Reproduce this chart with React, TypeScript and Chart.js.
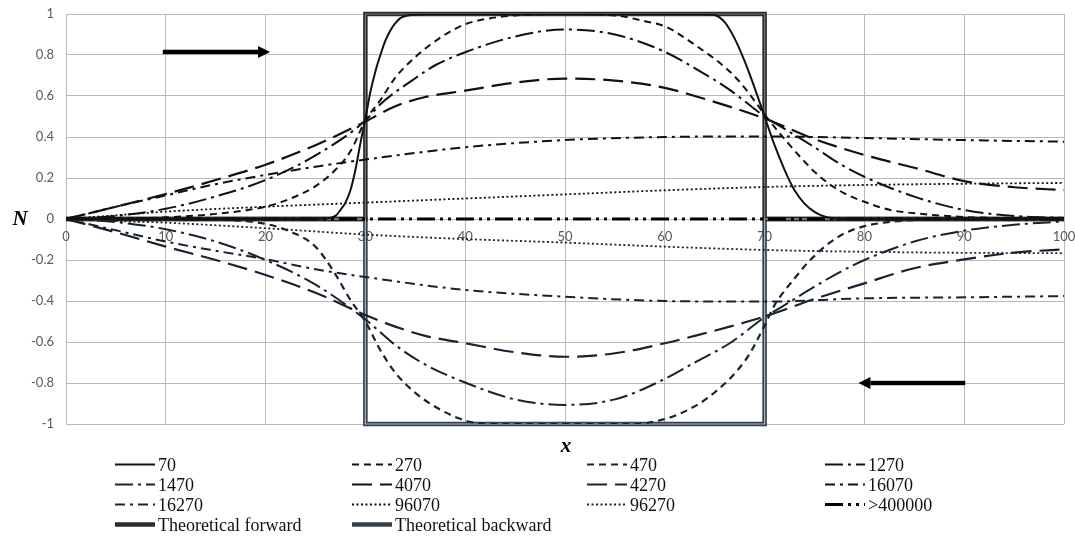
import React, { useEffect, useRef } from 'react';
import { Chart, registerables } from 'chart.js';

Chart.register(...registerables);

// ---------------- data ----------------
const x70 = [0, 25, 26, 27, 27.5, 28, 28.5, 29, 29.5, 30, 30.5, 31, 31.5, 32, 32.5, 33, 33.5, 34, 35, 36, 64, 65, 66, 67, 68, 69, 70, 71, 72, 73, 74, 75, 76, 77, 78, 100];
const y70 = [0, 0, 0.002, 0.015, 0.044, 0.08, 0.14, 0.24, 0.37, 0.49, 0.62, 0.72, 0.8, 0.87, 0.92, 0.955, 0.98, 0.99, 0.998, 1, 1, 0.995, 0.96, 0.88, 0.77, 0.64, 0.5, 0.36, 0.24, 0.14, 0.075, 0.035, 0.012, 0.003, 0, 0];

const x270 = [0, 10, 15, 20, 22.5, 25, 27, 28.5, 30, 31.5, 33, 35, 36.5, 38, 40, 42, 45, 50, 55, 58, 60, 63, 66.5, 68, 70, 72, 74, 75, 76.5, 78, 80, 82.5, 85, 90, 95, 100];
const y270 = [0, 0.008, 0.025, 0.06, 0.1, 0.16, 0.24, 0.33, 0.48, 0.58, 0.69, 0.79, 0.85, 0.9, 0.95, 0.975, 0.993, 1.0, 0.993, 0.965, 0.94, 0.85, 0.72, 0.64, 0.51, 0.39, 0.28, 0.23, 0.17, 0.125, 0.084, 0.045, 0.028, 0.01, 0.003, 0];

const x470 = [0, 15, 20, 22.4, 25, 27, 28.5, 30, 31.5, 33, 34.8, 37.5, 40.5, 43, 57, 58.2, 61.5, 64.9, 68.2, 70, 71, 72, 73, 74, 75, 76, 77, 78, 80, 83, 86, 90, 100];
const y470 = [0, -0.004, -0.024, -0.06, -0.135, -0.27, -0.395, -0.5, -0.64, -0.75, -0.84, -0.93, -0.99, -1.0, -1.0, -0.995, -0.95, -0.85, -0.68, -0.52, -0.42, -0.35, -0.29, -0.23, -0.18, -0.135, -0.1, -0.07, -0.035, -0.012, -0.004, 0, 0];

const x1270 = [0, 5, 10, 15, 20, 25, 30, 31.5, 34.8, 37, 39.8, 45, 50, 55, 59.8, 63.2, 66.5, 70, 72, 75, 77.5, 80, 85, 90, 95, 100];
const y1270 = [0, 0.015, 0.05, 0.11, 0.19, 0.31, 0.48, 0.56, 0.68, 0.75, 0.81, 0.89, 0.925, 0.9, 0.82, 0.73, 0.63, 0.5, 0.44, 0.35, 0.27, 0.206, 0.109, 0.044, 0.015, 0.005];

const x1470 = [0, 5, 10, 15, 20, 25, 30, 33, 36, 39.8, 45, 50, 55, 59.8, 63, 66.5, 70, 72, 75, 77.5, 80, 85, 90, 95, 100];
const y1470 = [0, -0.015, -0.05, -0.11, -0.2, -0.32, -0.49, -0.615, -0.71, -0.794, -0.88, -0.907, -0.88, -0.785, -0.7, -0.606, -0.48, -0.42, -0.33, -0.26, -0.2, -0.11, -0.057, -0.028, -0.012];

const x4070 = [0, 5, 10, 15, 20, 25, 30, 33, 36, 40, 45, 50, 55, 60, 63, 66.5, 70, 75, 80, 85, 90, 95, 100];
const y4070 = [0, 0.06, 0.122, 0.19, 0.265, 0.36, 0.475, 0.55, 0.595, 0.626, 0.665, 0.685, 0.675, 0.64, 0.6, 0.548, 0.49, 0.39, 0.312, 0.25, 0.185, 0.155, 0.141];
const y4270 = [0, -0.065, -0.135, -0.2, -0.273, -0.36, -0.468, -0.525, -0.57, -0.606, -0.65, -0.672, -0.655, -0.606, -0.57, -0.525, -0.476, -0.39, -0.314, -0.24, -0.197, -0.164, -0.148];

const x16 = [0, 5, 10, 15, 20, 25, 30, 40, 50, 60, 70, 80, 90, 100];
const y16070 = [0, 0.06, 0.115, 0.17, 0.215, 0.255, 0.29, 0.35, 0.385, 0.4, 0.403, 0.395, 0.385, 0.377];
const y16270 = [0, -0.055, -0.11, -0.155, -0.196, -0.245, -0.283, -0.346, -0.379, -0.4, -0.403, -0.387, -0.382, -0.376];

const x96 = [0, 5, 10, 20, 30, 40, 50, 60, 70, 80, 90, 100];
const y96070 = [0, 0.018, 0.036, 0.06, 0.08, 0.1, 0.12, 0.14, 0.156, 0.166, 0.172, 0.176];
const y96270 = [0, -0.01, -0.018, -0.045, -0.076, -0.098, -0.115, -0.135, -0.151, -0.16, -0.165, -0.167];

const x400k = [0, 10, 20, 30, 40, 50, 60, 70, 80, 90, 100];
const y400k = [0, 0, 0, 0, 0, 0, 0, 0, 0, 0, 0];

const xTheo = [0, 30, 30, 70, 70, 100];
const yTheoF = [0, 0, 1, 1, 0, 0];
const yTheoB = [0, 0, -1, -1, 0, 0];

const ARROW_FWD_X = [9.7, 20.45];
const ARROW_FWD_Y = 0.815;
const ARROW_BWD_X = [90.1, 79.4];
const ARROW_BWD_Y = -0.8;

const LEGEND_ORDER = ['70', '270', '470', '1270', '1470', '4070', '4270', '16070', '16270', '96070', '96270', '>400000', 'Theoretical forward', 'Theoretical backward'];

// ---------------- styles ----------------
const FWD = '#111111';
const BWD = '#1a2130';

const SERIES = [
  { label: '70', xs: x70, ys: y70, color: FWD, width: 2, dash: [] as number[] },
  { label: '270', xs: x270, ys: y270, color: FWD, width: 2, dash: [7, 5] },
  { label: '470', xs: x470, ys: y470, color: BWD, width: 2.2, dash: [7, 5] },
  { label: '1270', xs: x1270, ys: y1270, color: FWD, width: 2, dash: [18, 5, 3, 5] },
  { label: '1470', xs: x1470, ys: y1470, color: BWD, width: 2, dash: [18, 5, 3, 5] },
  { label: '4070', xs: x4070, ys: y4070, color: FWD, width: 2.2, dash: [20, 8] },
  { label: '4270', xs: x4070, ys: y4270, color: BWD, width: 2.2, dash: [20, 8] },
  { label: '16070', xs: x16, ys: y16070, color: FWD, width: 2, dash: [10, 5, 3, 5] },
  { label: '16270', xs: x16, ys: y16270, color: BWD, width: 2, dash: [10, 5, 3, 5] },
  { label: '96070', xs: x96, ys: y96070, color: FWD, width: 1.8, dash: [2, 2.5] },
  { label: '96270', xs: x96, ys: y96270, color: BWD, width: 1.8, dash: [2, 2.5] },
  { label: '>400000', xs: x400k, ys: y400k, color: '#000000', width: 3, dash: [18, 5, 3, 5, 3, 5] },
];

function pts(xs: number[], ys: number[]) {
  return xs.map((x, i) => ({ x, y: ys[i] }));
}

function drawArrow(ctx: CanvasRenderingContext2D, x1: number, x2: number, y: number) {
  const dir = Math.sign(x2 - x1);
  const headLen = 12;
  const headHalf = 6;
  const shaftHalf = 2.2;
  const baseX = x2 - dir * headLen;
  ctx.save();
  ctx.fillStyle = '#000';
  ctx.fillRect(Math.min(x1, baseX), y - shaftHalf, Math.abs(baseX - x1), shaftHalf * 2);
  ctx.beginPath();
  ctx.moveTo(x2, y);
  ctx.lineTo(baseX, y - headHalf);
  ctx.lineTo(baseX, y + headHalf);
  ctx.closePath();
  ctx.fill();
  ctx.restore();
}

const decorPlugin = {
  id: 'decor',
  afterDatasetsDraw(chart: any) {
    const { ctx, scales } = chart;
    const xs = scales.x;
    const ys = scales.y;
    drawArrow(ctx, xs.getPixelForValue(ARROW_FWD_X[0]), xs.getPixelForValue(ARROW_FWD_X[1]), ys.getPixelForValue(ARROW_FWD_Y));
    drawArrow(ctx, xs.getPixelForValue(ARROW_BWD_X[0]), xs.getPixelForValue(ARROW_BWD_X[1]), ys.getPixelForValue(ARROW_BWD_Y));
  },
  afterDraw(chart: any) {
    const { ctx, chartArea, scales } = chart;
    ctx.save();
    ctx.fillStyle = '#000';
    ctx.font = 'italic bold 21px "Liberation Serif"';
    ctx.textAlign = 'center';
    ctx.textBaseline = 'middle';
    ctx.fillText('N', 20, scales.y.getPixelForValue(0) + 1);
    ctx.textBaseline = 'alphabetic';
    ctx.fillText('x', (chartArea.left + chartArea.right) / 2 + 1, 452);

    // legend grid
    const cols = [115, 352, 587, 825];
    const baselines = [470.5, 490.5, 510.5, 530.5];
    ctx.font = '18px "Liberation Serif"';
    ctx.textAlign = 'left';
    LEGEND_ORDER.forEach((label, i) => {
      const col = i % 4;
      const row = Math.floor(i / 4);
      const x0 = cols[col];
      const yb = baselines[row];
      const yl = yb - 6;
      const dss = chart.data.datasets.filter((d: any) => d.label === label || d.label === label + ' inner');
      dss.forEach((d: any) => {
        ctx.save();
        ctx.strokeStyle = d.borderColor;
        ctx.lineWidth = d.borderWidth;
        ctx.setLineDash(d.borderDash || []);
        ctx.beginPath();
        ctx.moveTo(x0, yl);
        ctx.lineTo(x0 + 40, yl);
        ctx.stroke();
        ctx.restore();
      });
      ctx.fillStyle = '#111';
      ctx.fillText(label, x0 + 43, yb);
    });
    ctx.restore();
  },
};

export default function App() {
  const ref = useRef<HTMLCanvasElement | null>(null);

  useEffect(() => {
    if (!ref.current) return;
    const datasets: any[] = SERIES.map((s) => ({
      label: s.label,
      data: pts(s.xs, s.ys),
      borderColor: s.color,
      backgroundColor: s.color,
      borderWidth: s.width,
      borderDash: s.dash,
      pointRadius: 0,
      cubicInterpolationMode: 'monotone',
      fill: false,
    }));
    datasets.push(
      { label: 'Theoretical forward inner', data: pts(xTheo, yTheoF), borderColor: '#767676', borderWidth: 1.2, pointRadius: 0, tension: 0, fill: false, clip: false },
      { label: 'Theoretical backward inner', data: pts(xTheo, yTheoB), borderColor: '#a9b2c0', borderWidth: 1.2, pointRadius: 0, tension: 0, fill: false, clip: false },
      { label: 'Theoretical forward', data: pts(xTheo, yTheoF), borderColor: '#2b2b2b', borderWidth: 4.5, pointRadius: 0, tension: 0, fill: false, clip: false },
      { label: 'Theoretical backward', data: pts(xTheo, yTheoB), borderColor: '#363f4e', borderWidth: 4.5, pointRadius: 0, tension: 0, fill: false, clip: false },
    );

    const chart = new Chart(ref.current, {
      type: 'line',
      data: { datasets },
      options: {
        animation: false,
        responsive: false,
        layout: { padding: { left: 0, top: 14, right: 11, bottom: 112 } },
        plugins: { legend: { display: false }, tooltip: { enabled: false } },
        scales: {
          x: {
            type: 'linear',
            position: { y: 0 } as any,
            min: 0,
            max: 100,
            ticks: { stepSize: 10, padding: 10, color: '#595959', font: { family: 'Lato', size: 13 }, maxRotation: 0 },
            grid: { color: '#b8b8b8', lineWidth: 1, drawTicks: false },
            border: { display: false },
            afterFit: (scale: any) => {
              scale.paddingLeft = 0;
              scale.paddingRight = 0;
              scale.paddingTop = 0;
              scale.paddingBottom = 0;
            },
          },
          y: {
            type: 'linear',
            position: 'left',
            min: -1,
            max: 1,
            ticks: {
              stepSize: 0.2,
              padding: 12,
              color: '#595959',
              font: { family: 'Lato', size: 13 },
              callback: (v: any) => String(Number(Number(v).toFixed(1))),
            },
            grid: { color: '#b8b8b8', lineWidth: 1, drawTicks: false },
            border: { display: false },
            afterFit: (scale: any) => {
              scale.width = 66;
              scale.paddingTop = 0;
              scale.paddingBottom = 0;
              scale.paddingLeft = 0;
              scale.paddingRight = 0;
            },
          },
        },
      },
      plugins: [decorPlugin],
    });
    return () => chart.destroy();
  }, []);

  return (
    <div style={{ position: 'absolute', left: 0, top: 0, width: 1075, height: 536, background: '#fff' }}>
      <canvas ref={ref} width={1075} height={536} style={{ display: 'block' }} />
    </div>
  );
}
